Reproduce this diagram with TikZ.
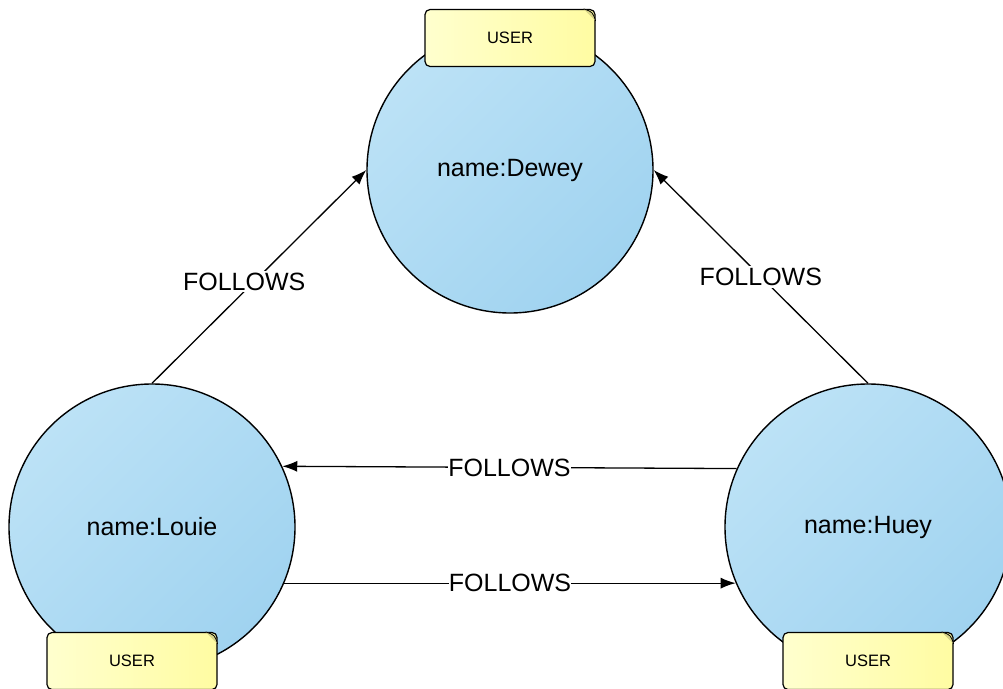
\documentclass[tikz,border=0pt]{standalone}
\usepackage{fontspec}
\setmainfont{Liberation Sans}
\usetikzlibrary{arrows.meta}

\definecolor{nodelight}{HTML}{BCE2F6}
\definecolor{nodedark}{HTML}{A0D3F0}
\definecolor{taglight}{HTML}{FFFFCE}
\definecolor{tagdark}{HTML}{FFFCA2}
\definecolor{tagfold}{HTML}{D8D488}

\begin{document}
\begin{tikzpicture}[x=1pt, y=-1pt]
    \tikzset{user/.style={
        circle,
        draw,
        line width=1.4pt,
        minimum size=286pt,
        inner sep=0pt,
        left color=nodelight,
        right color=nodedark,
        shading angle=45,
        font=\fontsize{25}{30}\selectfont
    }}
    \tikzset{tag/.style={
        rectangle,
        draw,
        rounded corners=5pt,
        line width=1.2pt,
        minimum width=170pt,
        minimum height=57pt,
        left color=taglight,
        right color=tagdark,
        font=\fontsize{16.5}{20}\selectfont
    }}
    \tikzset{rel/.style={
        line width=1.3pt,
        -{Latex[length=15pt, width=11pt]}
    }}
    \tikzset{follows/.style={
        fill=white,
        inner sep=2pt,
        font=\fontsize{25}{30}\selectfont
    }}
    \clip (0,0) rectangle (1003,688);

    \node[user] (dewey) at (510,170) {name:Dewey};
    \node[user] (louie) at (152,527) {name:Louie};
    \node[user] (huey) at (868,527) {name:Huey};

    % labels sitting on top of the circles
    \node[tag] (tdewey) at (510,38) {USER};
    \node[tag] (tlouie) at (132,661) {USER};
    \node[tag] (thuey) at (868,661) {USER};
    \foreach \t in {tdewey,tlouie,thuey} {
        \draw[line width=0.8pt, fill=tagfold] ([xshift=-12pt]\t.north east) .. controls ([xshift=-3pt, yshift=-3pt]\t.north east) .. ([yshift=-12pt]\t.north east);
    }

    \draw[rel] (louie.north) -- node[follows, pos=0.43, yshift=10pt] {FOLLOWS} (dewey.west);
    \draw[rel] (huey.north) -- node[follows] {FOLLOWS} (dewey.east);
    \draw[rel] (huey.156) -- node[follows, inner sep=0pt] {FOLLOWS} (louie.25);
    \draw[rel] (louie.-23) -- node[follows, inner sep=0pt] {FOLLOWS} (huey.203);
\end{tikzpicture}
\end{document}
